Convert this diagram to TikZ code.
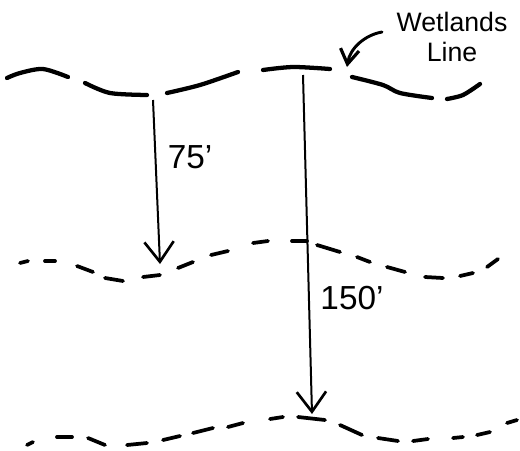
\documentclass[tikz,border=0pt]{standalone}
\usepackage{fontspec}
\setmainfont{Liberation Sans}
\usetikzlibrary{arrows.meta}
\begin{document}
\begin{tikzpicture}[x=0.75pt,y=-0.75pt,
  wl/.style={line width=3.2pt,line cap=round},
  dl/.style={line width=2.8pt,line cap=round},
  dim/.style={line width=1.5pt,-{Straight Barb[length=15pt,width=22pt,line width=2pt]}},
  lbl/.style={font=\fontsize{25}{27}\selectfont,inner sep=0pt},
  note/.style={font=\fontsize{20}{22}\selectfont,inner sep=0pt,align=center}]
\useasboundingbox (0,0) rectangle (520,450);
% top wetlands line
\draw[wl] plot[smooth] coordinates {(7,78) (20,73) (43,69) (68,77)};
\draw[wl] plot[smooth] coordinates {(85,83) (110,93) (147,95)};
\draw[wl] plot[smooth] coordinates {(167,93) (200,85) (238,72)};
\draw[wl] plot[smooth] coordinates {(263,70) (293,67) (330,69)};
\draw[wl] plot[smooth] coordinates {(352,77) (383,85) (400,93) (432,98)};
\draw[wl] plot[smooth] coordinates {(447,99) (463,95) (480,84)};
% 75' line
\foreach \a/\b/\c/\d in {20/263/28/261, 45/261/55/261, 77/266/93/272, 105/278/123/281,
  143/277/160/275, 178/268/193/262, 211/255/228/251, 253/243/268/241, 292/241/307/241,
  317/245/340/252, 357/257/370/262, 387/267/405/272, 425/277/443/278, 460/276/473/273,
  487/267/498/259}
  \draw[dl] (\a,\b) -- (\c,\d);
% 150' line
\foreach \a/\b/\c/\d in {27/445/33/442, 57/437/72/437, 88/438/105/445, 127/445/147/443,
  163/440/180/436, 193/433/213/428, 228/427/243/423, 270/419/283/417, 298/417/325/420,
  340/425/362/435, 378/438/398/441, 413/441/428/439, 453/438/463/437, 477/435/490/432,
  507/423/517/420}
  \draw[dl] (\a,\b) -- (\c,\d);
% dimension arrows
\coordinate (a1s) at (153,100);
\coordinate (a1e) at (160,264);
\coordinate (a2s) at (303,75);
\coordinate (a2e) at (312,414);
\draw[dim] (a1s) -- (a1e);
\draw[dim] (a2s) -- (a2e);
\node[lbl] (l75) at (190,157) {75'};
\node[lbl] (l150) at (352,298) {150'};
% wetlands label
\node[note] (wet) at (452,37) {Wetlands\\Line};
\coordinate (cs) at (382,32);
\coordinate (ce) at (347,67);
\draw[line width=2.2pt,line cap=round,-{Straight Barb[length=11pt,width=14pt,line width=2.4pt]}]
  (cs) .. controls (365,35) and (350,48) .. (ce);
\end{tikzpicture}
\end{document}
